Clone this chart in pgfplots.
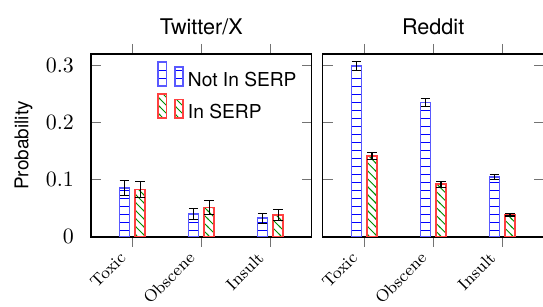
\documentclass[border=0pt]{standalone}
\usepackage{fontspec}
\usepackage{graphicx}
\usepackage{pgfplots}
\pgfplotsset{compat=1.18}
\usetikzlibrary{patterns.meta}
\newfontfamily\hv{TeX Gyre Heros}

\tikzdeclarepattern{
  name=myhlines,
  type=uncolored,
  bottom left={(-0.5pt,-0.5pt)},
  top right={(4.5pt,4.5pt)},
  tile size={(4pt,4pt)},
  code={\draw[line width=0.5pt] (-0.5pt,2pt) -- (4.5pt,2pt);}
}
\tikzdeclarepattern{
  name=mynwlines,
  type=uncolored,
  bottom left={(-0.5pt,-0.5pt)},
  top right={(4.5pt,4.5pt)},
  tile size={(4pt,4pt)},
  code={\draw[line width=0.45pt] (-0.5pt,4.5pt) -- (4.5pt,-0.5pt);}
}

\pgfplotsset{
  mybars/.style={
    ybar=2.8pt, bar width=5pt,
    scale only axis, width=110.5pt, height=91.5pt,
    ymin=0, ymax=0.32,
    xmin=-0.6, xmax=2.6,
    xtick={0,1,2},
    xticklabels={\rotatebox{45}{Toxic},\rotatebox{45}{Obscene},\rotatebox{45}{Insult}},
    ytick={0,0.1,0.2,0.3},
    xtick pos=both, ytick pos=both,
    xticklabel pos=lower,
    xtick align=outside, ytick align=inside,
    major tick length=5pt,
    tick style={black!55, line width=0.5pt},
    axis line style={line width=0.7pt},
    x tick label style={anchor=north east, xshift=0.8pt, yshift=1.5pt, font=\fontsize{8.4}{10}\selectfont},
    y tick label style={xshift=-5pt, font=\fontsize{11}{13}\selectfont},
    title style={at={(0.5,1)}, anchor=base, yshift=3.8pt, font=\hv\fontsize{10.8}{13}\selectfont},
    error bars/error bar style={black, line width=0.6pt},
    error bars/error mark options={rotate=90, mark size=2.4pt, black, line width=0.6pt},
    legend image code/.code={%
      \draw[#1] (0pt,-0.25em) rectangle (4.2pt,0.95em);
      \draw[#1] (8.3pt,-0.25em) rectangle (12.5pt,0.68em);
    },
  },
  notstyle/.style={draw=blue!65, line width=0.8pt, pattern={myhlines}, pattern color=blue},
  instyle/.style={draw=red!75, line width=0.8pt, pattern={mynwlines}, pattern color=green!55!black},
}

\begin{document}
\begin{tikzpicture}
\begin{axis}[mybars,
  title={Twitter/X},
  ylabel={Probability},
  ylabel style={at={(axis description cs:-0.233,0.5)}, anchor=south, font=\hv\fontsize{9.5}{11}\selectfont},
  legend style={at={(rel axis cs:0.96,0.975)}, anchor=north east, draw=none, fill=none,
    font=\hv\fontsize{9.6}{11}\selectfont, row sep=0pt, inner sep=1pt},
  legend cell align=left,
]
\addplot[notstyle, error bars/.cd, y dir=both, y explicit] coordinates {
  (0,0.085) +- (0,0.013)
  (1,0.040) +- (0,0.010)
  (2,0.0325) +- (0,0.009)
};
\addlegendentry{Not In SERP}
\addplot[instyle, error bars/.cd, y dir=both, y explicit] coordinates {
  (0,0.083) +- (0,0.014)
  (1,0.051) +- (0,0.012)
  (2,0.038) +- (0,0.010)
};
\addlegendentry{In SERP}
\end{axis}

\begin{axis}[mybars, at={(116pt,0pt)}, anchor=south west,
  title={Reddit},
  yticklabels={},
]
\addplot[notstyle, error bars/.cd, y dir=both, y explicit] coordinates {
  (0,0.299) +- (0,0.008)
  (1,0.235) +- (0,0.0075)
  (2,0.105) +- (0,0.004)
};
\addplot[instyle, error bars/.cd, y dir=both, y explicit] coordinates {
  (0,0.1415) +- (0,0.0065)
  (1,0.092) +- (0,0.005)
  (2,0.039) +- (0,0.0025)
};
\end{axis}
\pgfresetboundingbox
\path[use as bounding box] (-45.5pt,-35pt) rectangle (226.2pt,118.5pt);
\end{tikzpicture}
\end{document}
